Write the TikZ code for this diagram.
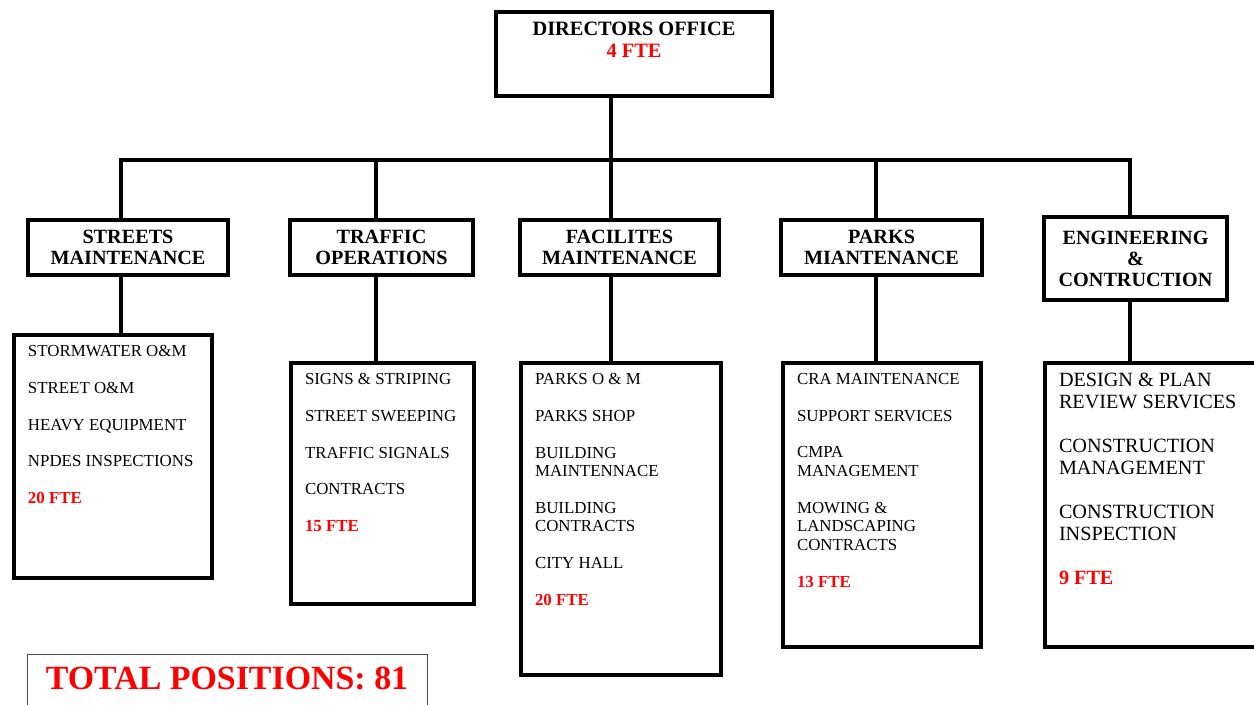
\documentclass[tikz,border=0pt]{standalone}
\usepackage{fontspec}
\setmainfont{Liberation Serif}
\usepackage{tikz}

\newlength{\px}
\setlength{\px}{0.02cm}
\newcommand{\fte}[1]{\textcolor{red}{\textbf{#1 FTE}}}
\newcommand{\toptext}[3]{\parbox[c][#2][t]{#1}{\raggedright #3}}

\begin{document}
\begin{tikzpicture}[x=0.02cm,y=-0.02cm]

	\tikzstyle office box=[draw, line width=4\px, inner sep=10\px, anchor=north west, font=\fontsize{11.6pt}{12.5pt}\selectfont\bfseries];
	\tikzstyle unit box=[draw, line width=4\px, inner sep=0pt, align=center, minimum height=55\px, font=\fontsize{11.5pt}{12pt}\selectfont\bfseries];
	\tikzstyle task box=[draw, line width=4\px, inner xsep=14\px, inner ysep=10\px, anchor=north west, font=\fontsize{9.6pt}{10.5pt}\selectfont];
	\tikzstyle link line=[line width=3.5\px, line cap=rect];
	\tikzstyle total box=[draw=black!70, line width=1\px, anchor=north, inner ysep=12\px, minimum width=400\px, text depth=40\px, text=red, font=\fontsize{19.3pt}{20pt}\selectfont\bfseries];

	\useasboundingbox (0,0) rectangle (1254,704);

	\node[office box] (office) at (494,10) {\toptext{256\px}{64\px}{\centering DIRECTORS OFFICE\\ \fte{4}}};

	\node[unit box, minimum width=200\px] (streets) at (128,247.5) {STREETS\\MAINTENANCE};
	\node[unit box, minimum width=183\px] (traffic) at (381.5,247.5) {TRAFFIC\\OPERATIONS};
	\node[unit box, minimum width=199\px] (facil) at (619.5,247.5) {FACILITES\\MAINTENANCE};
	\node[unit box, minimum width=201\px] (parks) at (881.5,247.5) {PARKS\\MIANTENANCE};
	\node[unit box, minimum width=183\px, minimum height=83\px] (eng) at (1135.5,258.5) {ENGINEERING\\\&\\CONTRUCTION};

	\node[task box] (streets-list) at (12,333) {\toptext{170\px}{223\px}{STORMWATER O\&M\\[10.5pt]
		STREET O\&M\\[10.5pt]
		HEAVY EQUIPMENT\\[10.5pt]
		NPDES INSPECTIONS\\[10.5pt]
		\fte{20}}};
	\node[task box] (traffic-list) at (289,361) {\toptext{155\px}{221\px}{SIGNS \& STRIPING\\[10.5pt]
		STREET SWEEPING\\[10.5pt]
		TRAFFIC SIGNALS\\[10.5pt]
		CONTRACTS\\[10.5pt]
		\fte{15}}};
	\node[task box] (facil-list) at (519,361) {\toptext{172\px}{292\px}{PARKS O \& M\\[10.5pt]
		PARKS SHOP\\[10.5pt]
		BUILDING\\MAINTENNACE\\[10.5pt]
		BUILDING\\CONTRACTS\\[10.5pt]
		CITY HALL\\[10.5pt]
		\fte{20}}};
	\node[task box] (parks-list) at (781,361) {\toptext{170\px}{264\px}{CRA MAINTENANCE\\[10.5pt]
		SUPPORT SERVICES\\[10.5pt]
		CMPA\\MANAGEMENT\\[10.5pt]
		MOWING \&\\LANDSCAPING\\CONTRACTS\\[10.5pt]
		\fte{13}}};
	\node[task box, font=\fontsize{11.5pt}{12.5pt}\selectfont] (eng-list) at (1043,361) {\toptext{232\px}{264\px}{DESIGN \& PLAN\\REVIEW SERVICES\\[12.5pt]
		CONSTRUCTION\\MANAGEMENT\\[12.5pt]
		CONSTRUCTION\\INSPECTION\\[12.5pt]
		\fte{9}}};

	\foreach \n/\x in {streets/121,traffic/376,facil/611,parks/876,eng/1130}
	{
		\coordinate (j-\n) at (\x,160);
		\draw[link line] (j-\n) -- (j-\n |- \n.north);
		\draw[link line] (\n.south -| j-\n) -- (j-\n |- \n-list.north);
	}
	\draw[link line] (j-streets) -- (j-eng);
	\draw[link line] (office.south -| j-facil) -- (j-facil);

	\node[total box] (total) at (227,654) {TOTAL POSITIONS: 81};

\end{tikzpicture}
\end{document}
